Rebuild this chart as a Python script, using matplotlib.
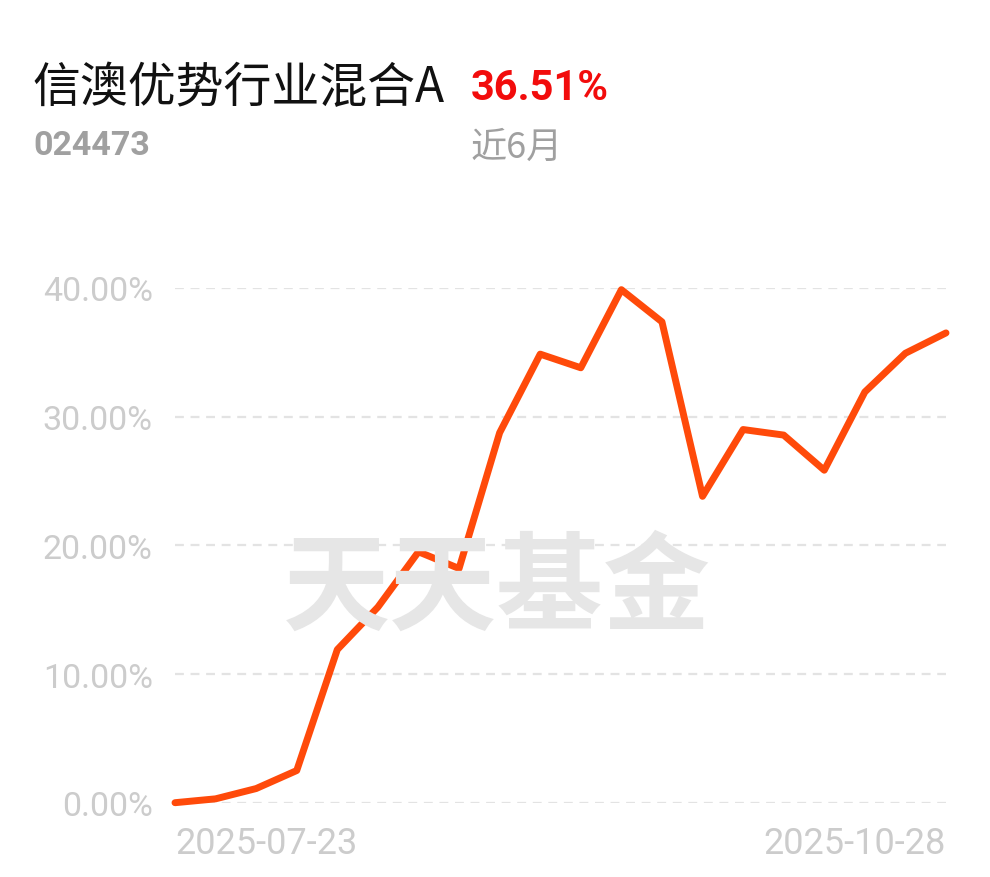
import matplotlib.pyplot as plt
import numpy as np

plt.rcParams['font.family'] = ['Roboto', 'Noto Sans CJK SC', 'DejaVu Sans']

# data (cumulative return, %)
returns = [0.0, 0.3, 1.1, 2.5, 11.9, 15.2, 19.5, 18.2, 28.75, 34.86,
           33.8, 39.87, 37.37, 23.81, 29.0, 28.57, 25.84, 31.92, 34.93, 36.51]
y_ticks = [0, 10, 20, 30, 40]
date_labels = ['2025-07-23', '2025-10-28']
fund_name = '信澳优势行业混合A'
fund_code = '024473'
period_label = '近6月'
period_return = '36.51%'

W, H = 990, 878
fig = plt.figure(figsize=(W / 100, H / 100), dpi=100)

# plot area in pixels: x 175..946, y(0%)=803.7, y(40%)=289
left, right = 175, 946
y0, y40 = 803.7, 289
ax = fig.add_axes([left / W, (H - y0) / H, (right - left) / W, (y0 - y40) / H])

x = np.arange(len(returns))
ax.plot(x, returns, color='#ff4a0a', lw=5, solid_capstyle='round',
        solid_joinstyle='round', clip_on=False, zorder=3)

ax.set_xlim(0, len(returns) - 1)
ax.set_ylim(0, 40)
for v in y_ticks:
    ax.axhline(v, color='#e3e3e3', lw=1.6, dashes=(4, 3), zorder=1)

ax.set_yticks(y_ticks)
ax.set_yticklabels(['%.2f%%' % v for v in y_ticks], fontsize=24.5, color='#cccccc')
ax.tick_params(axis='y', length=0, pad=16)
ax.set_xticks([])
for s in ax.spines.values():
    s.set_visible(False)

# date labels under the axis
ax.text(0, -0.078, date_labels[0], transform=ax.transAxes, ha='left', va='center',
        fontsize=26, color='#cccccc')
ax.text(1, -0.078, date_labels[1], transform=ax.transAxes, ha='right', va='center',
        fontsize=26, color='#cccccc')

# watermark
fig.text(497 / W, 1 - 590 / H, '天天基金', ha='center', va='center', fontsize=77,
         fontweight='bold', color='#e6e6e6', family=['Noto Sans CJK SC'], zorder=0)

# header
fig.text(32 / W, 1 - 88 / H, fund_name, ha='left', va='center', fontsize=34.5,
         color='#111111', family=['Noto Sans CJK SC'])
fig.text(471 / W, 1 - 88 / H, period_return, ha='left', va='center', fontsize=30,
         fontweight='bold', color='#f20c0c')
fig.text(33 / W, 1 - 146 / H, fund_code, ha='left', va='center', fontsize=24.5,
         fontweight='bold', color='#a0a0a0')
fig.text(471 / W, 1 - 148 / H, period_label, ha='left', va='center', fontsize=26,
         color='#a0a0a0', family=['Noto Sans CJK SC', 'Roboto'])

fig.savefig('out.png', dpi=100, facecolor='white')
